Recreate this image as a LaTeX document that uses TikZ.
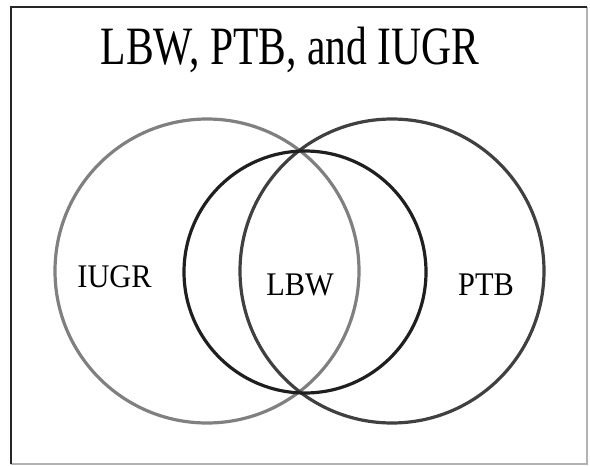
\documentclass[tikz,border=0pt]{standalone}
\usepackage{fontspec}
\setmainfont{Liberation Serif}
\usetikzlibrary{positioning}
\begin{document}
\begin{tikzpicture}[x=1pt,y=-1pt,
  ring/.style={line width=3.2pt},
  setlabel/.style={font=\fontsize{33}{33}\selectfont, inner sep=0pt}]
\useasboundingbox (0,0) rectangle (590,466);
% frame
\draw[black!30, line width=1.2pt](587,7)--(587,464)--(11,464);
\draw[black!85, line width=1.6pt](11,464)--(11,7)--(587,7);
\node[inner sep=0pt, anchor=base] (title) at (290,64)
  {\fontsize{54}{54}\selectfont\scalebox{0.77}[1]{LBW, PTB, and IUGR}};
% sets
\draw[ring, black!50](207,271) circle (152);
\draw[ring, black!75](392,271) circle (152);
\draw[ring, black!88](305,272) circle (121);
\node[setlabel, anchor=base] (iugr) at (114.5,287) {\scalebox{0.92}[1]{IUGR}};
\node[setlabel, anchor=base] (lbw) at (300,295) {\scalebox{0.92}[1]{LBW}};
\node[setlabel, anchor=base] (ptb) at (486,295) {\scalebox{0.92}[1]{PTB}};
\end{tikzpicture}
\end{document}
